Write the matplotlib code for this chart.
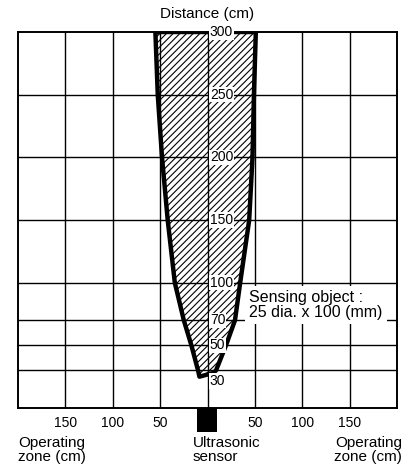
import matplotlib
matplotlib.use("Agg")
import matplotlib.pyplot as plt
from matplotlib import font_manager
from matplotlib.patches import Polygon, Rectangle

# beam outline (cm)
left_dist = [25, 30, 50, 70, 100, 150, 200, 250, 300]
left_edge = [-8.5, -10, -17, -25, -34.5, -42, -48, -52.5, -55]
right_dist = [28, 30, 50, 70, 100, 150, 200, 250, 300]
right_edge = [6, 9, 19.5, 29, 34.5, 44, 47.5, 49, 51]

x_ticks = [-150, -100, -50, 0, 50, 100, 150]
x_labels = ['150', '100', '50', '', '50', '100', '150']
y_grid = [30, 50, 70, 100, 150, 200, 250]
dist_labels = [300, 250, 200, 150, 100, 70, 50, 30]

names = {f.name for f in font_manager.fontManager.ttflist}
main_font = 'Liberation Sans' if 'Liberation Sans' in names else 'DejaVu Sans'
narrow_font = 'Liberation Sans Narrow' if 'Liberation Sans Narrow' in names else main_font
plt.rcParams['font.family'] = main_font
plt.rcParams['hatch.linewidth'] = 0.8

fig = plt.figure(figsize=(4.13, 4.69), dpi=100)
ax = fig.add_axes([18 / 413, 1 - 408 / 469, 379 / 413, 376 / 469])
ax.set_xlim(-200, 200)
ax.set_ylim(0, 300)

ax.set_xticks(x_ticks)
ax.set_xticklabels(x_labels, fontsize=10, family=narrow_font)
ax.set_yticks(y_grid)
ax.set_yticklabels([])
ax.tick_params(length=0, pad=6)
ax.grid(True, color='black', linewidth=1.0)
ax.set_axisbelow(True)
for sp in ax.spines.values():
    sp.set_linewidth(1.4)
    sp.set_color('black')

# hatched detection zone
pts = list(zip(left_edge, left_dist)) + list(zip(right_edge, right_dist))[::-1]
beam = Polygon(pts, closed=True, facecolor='none', edgecolor='black',
               hatch='/////', linewidth=3.2, joinstyle='round', zorder=3)
ax.add_patch(beam)

# distance labels along the centre line
for d in dist_labels:
    if d == 30:
        ax.text(2.5, d - 3, str(d), ha='left', va='top', fontsize=10,
                family=narrow_font, zorder=5,
                bbox=dict(boxstyle='square,pad=0.05', facecolor='white', edgecolor='none'))
    else:
        ax.text(2.5, d, str(d), ha='left', va='center', fontsize=10,
                family=narrow_font, zorder=5, clip_on=False,
                bbox=dict(boxstyle='square,pad=0.05', facecolor='white', edgecolor='none'))

ax.text(44, 82, 'Sensing object :\n25 dia. x 100 (mm)', ha='left', va='center',
        fontsize=11.5, linespacing=1.0, zorder=4,
        bbox=dict(boxstyle='square,pad=0.25', facecolor='white', edgecolor='none'))

# sensor block
ax.add_patch(Rectangle((-11, -19.5), 21, 19.5, facecolor='black', edgecolor='none',
                       clip_on=False, zorder=4))

fig.text(207 / 413, 1 - 14 / 469, 'Distance (cm)', ha='center', va='center', fontsize=11)
fig.text(18 / 413, 1 - 450 / 469, 'Operating\nzone (cm)', ha='left', va='center',
         fontsize=11, linespacing=0.95)
fig.text(193 / 413, 1 - 450 / 469, 'Ultrasonic\nsensor', ha='left', va='center',
         fontsize=11, linespacing=0.95)
fig.text(402 / 413, 1 - 450 / 469, 'Operating\nzone (cm)', ha='right', va='center',
         fontsize=11, linespacing=0.95)

fig.savefig('out.png', dpi=100)
